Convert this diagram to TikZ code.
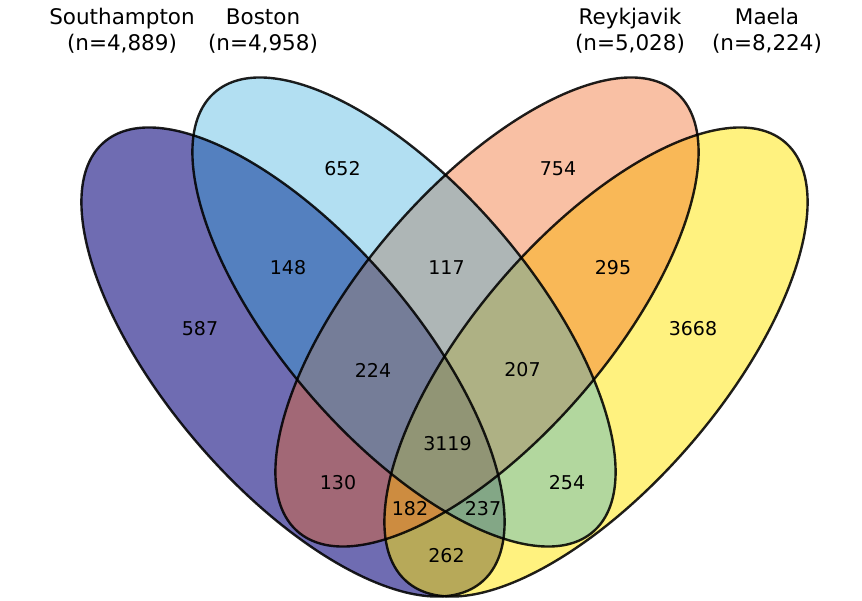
\documentclass[tikz,border=0pt]{standalone}
\usepackage{fontspec}
\setmainfont{DejaVu Sans}
\definecolor{cS}{RGB}{15,10,127}
\definecolor{cB}{RGB}{35,166,218}
\definecolor{cR}{RGB}{240,98,28}
\definecolor{cM}{RGB}{255,231,1}
\tikzset{
  num/.style={font=\fontsize{19}{22}\selectfont, inner sep=0pt, text=black},
  ttl/.style={font=\fontsize{21.5}{26}\selectfont, inner sep=0pt, anchor=base, text=black},
  edge/.style={draw=black, line width=2.4pt, draw opacity=0.88},
  vshape/.style={x radius=289.9pt, y radius=125.3pt},
}
\begin{document}
\begin{tikzpicture}[x=1pt,y=-1pt]
\useasboundingbox[fill=white] (0,0) rectangle (862,601);
% fills (order chosen to reproduce the blended colours)
\fill[cS, fill opacity=0.6, shift={(293,362)}, rotate=-49.3] (0,0) ellipse [vshape];
\fill[cM, fill opacity=0.5, shift={(596,362)}, rotate=49.3] (0,0) ellipse [vshape];
\fill[cR, fill opacity=0.4, shift={(487,312)}, rotate=49.3] (0,0) ellipse [vshape];
\fill[cB, fill opacity=0.35, shift={(404,312)}, rotate=-49.3] (0,0) ellipse [vshape];
% outlines
\draw[edge, shift={(293,362)}, rotate=-49.3] (0,0) ellipse [vshape];
\draw[edge, shift={(596,362)}, rotate=49.3] (0,0) ellipse [vshape];
\draw[edge, shift={(487,312)}, rotate=49.3] (0,0) ellipse [vshape];
\draw[edge, shift={(404,312)}, rotate=-49.3] (0,0) ellipse [vshape];
% set titles
\node[ttl] (tS) at (122,25) {Southampton};
\node[ttl] (nS) at (122,51) {(n=4,889)};
\node[ttl] (tB) at (263,25) {Boston};
\node[ttl] (nB) at (263,51) {(n=4,958)};
\node[ttl] (tR) at (630,25) {Reykjavik};
\node[ttl] (nR) at (630,51) {(n=5,028)};
\node[ttl] (tM) at (767,25) {Maela};
\node[ttl] (nM) at (767,51) {(n=8,224)};
% region counts
\node[num] (r652) at (342.5,169) {652};
\node[num] (r754) at (558,169) {754};
\node[num] (r148) at (288,268) {148};
\node[num] (r117) at (446.5,268) {117};
\node[num] (r295) at (613,268) {295};
\node[num] (r587) at (200,329) {587};
\node[num] (r3668) at (693,329) {3668};
\node[num] (r224) at (373,370) {224};
\node[num] (r207) at (522.5,370) {207};
\node[num] (r3119) at (447.5,444) {3119};
\node[num] (r130) at (338,483) {130};
\node[num] (r254) at (567,483) {254};
\node[num] (r182) at (410,509) {182};
\node[num] (r237) at (483,509) {237};
\node[num] (r262) at (446.5,556) {262};
\end{tikzpicture}
\end{document}
